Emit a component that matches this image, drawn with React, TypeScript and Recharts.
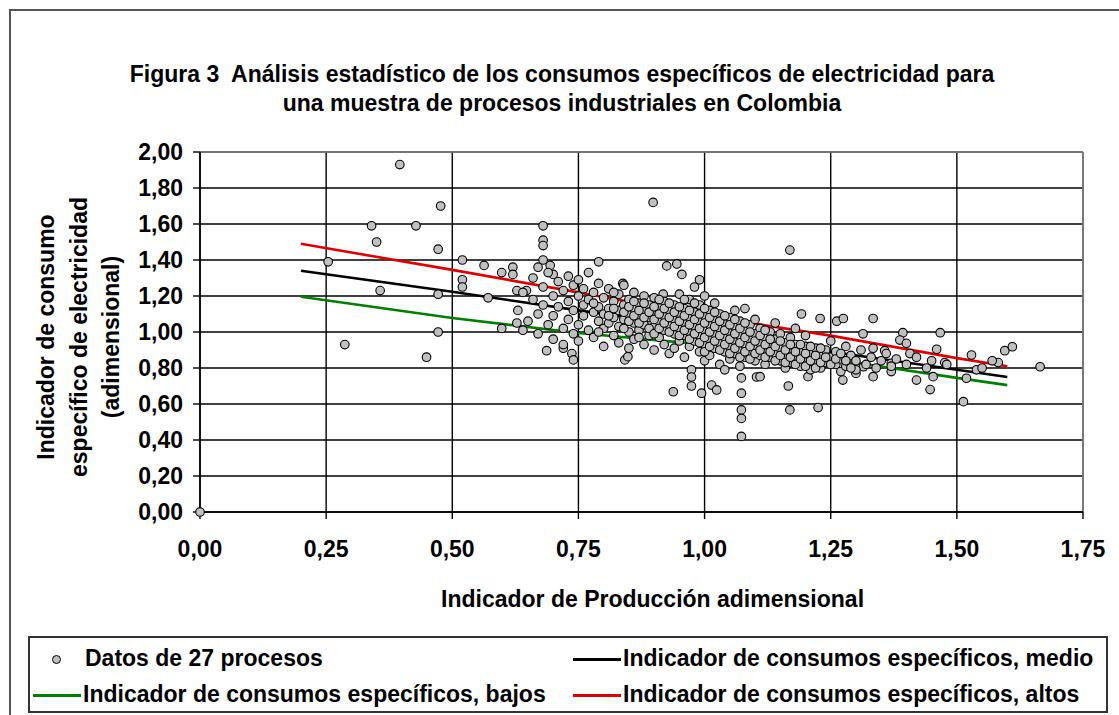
import React from "react";
import { ScatterChart, Scatter, XAxis, YAxis, CartesianGrid, ReferenceLine } from "recharts";

// Ticks of both axes (comma decimals, as in the original Excel chart)
const xTicks = [0, 0.25, 0.5, 0.75, 1, 1.25, 1.5, 1.75];
const yTicks = [0, 0.2, 0.4, 0.6, 0.8, 1, 1.2, 1.4, 1.6, 1.8, 2];

// Indicator lines at a few x positions
const lineaX = [0.2, 0.5, 0.75, 1.0, 1.25, 1.5, 1.6];
const altos = [1.49, 1.345, 1.22, 1.09, 0.98, 0.855, 0.81];
const medio = [1.34, 1.224, 1.12, 1.02, 0.89, 0.79, 0.75];
const bajos = [1.196, 1.078, 0.994, 0.93, 0.85, 0.745, 0.705];

// Scattered points away from the main cloud
const dispersos: [number, number][] = [
  [0, 0], [0.254, 1.39], [0.287, 0.93], [0.34, 1.59], [0.35, 1.5], [0.357, 1.23], [0.396, 1.93],
  [0.428, 1.59], [0.477, 1.7], [0.472, 1.46], [0.472, 1.0], [0.449, 0.86], [0.472, 1.21],
  [0.52, 1.4], [0.52, 1.29], [0.52, 1.25], [0.563, 1.37], [0.571, 1.19], [0.598, 1.33], [0.598, 1.02],
  [0.62, 1.36], [0.62, 1.32], [0.628, 1.23], [0.628, 1.05], [0.64, 1.01], [0.647, 1.23],
  [0.68, 1.59], [0.68, 1.51], [0.68, 1.48], [0.68, 1.4], [0.67, 1.36], [0.694, 1.37], [0.7, 1.32],
  [0.687, 0.896], [0.72, 0.91], [0.737, 0.88], [0.74, 0.845], [0.79, 1.39], [0.842, 0.845], [0.848, 0.863],
  [0.898, 1.72], [0.925, 1.367], [0.945, 1.378], [0.955, 1.32], [0.938, 0.668], [0.974, 0.79], [0.974, 0.75],
  [0.974, 0.7], [0.994, 0.66], [1.014, 0.705], [1.024, 0.678], [0.99, 1.29], [1.073, 0.66], [1.073, 0.567],
  [1.073, 0.52], [1.073, 0.42], [1.073, 0.745], [1.103, 0.75], [0.838, 1.27], [0.918, 1.21],
  [1.169, 1.455], [1.192, 1.1], [1.229, 1.075], [1.262, 1.06], [1.275, 1.075], [1.334, 1.075],
  [1.169, 0.567], [1.225, 0.58], [1.166, 0.7], [1.205, 0.752], [1.11, 0.752], [1.274, 0.733],
  [1.314, 0.99], [1.393, 0.996], [1.387, 0.955], [1.4, 0.937], [1.467, 0.996], [1.46, 0.904],
  [1.357, 0.896], [1.334, 0.91], [1.407, 0.88], [1.476, 0.83], [1.447, 0.68], [1.42, 0.733],
  [1.453, 0.752], [1.529, 0.872], [1.519, 0.743], [1.539, 0.79], [1.513, 0.613], [1.582, 0.83],
  [1.595, 0.896], [1.61, 0.918], [1.665, 0.807], [1.37, 0.826], [1.37, 0.78], [1.334, 0.752],
  [1.3, 0.77], [1.315, 0.807],
];

// Dense cloud of points between 0.6 and 1.6
const nucleo: [number, number][] = [
  [0.63, 1.12], [0.64, 1.22], [0.65, 1.06], [0.66, 1.18], [0.66, 1.3], [0.67, 1.1], [0.67, 0.99],
  [0.68, 1.25], [0.68, 1.15], [0.69, 1.04], [0.69, 1.33], [0.7, 1.2], [0.7, 1.09], [0.7, 0.96],
  [0.71, 1.28], [0.71, 1.14], [0.72, 1.02], [0.72, 1.23], [0.72, 0.93],
  [0.73, 1.31], [0.73, 1.17], [0.73, 1.07], [0.74, 1.26], [0.74, 0.99], [0.74, 1.12], [0.75, 1.2],
  [0.75, 1.04], [0.75, 0.95], [0.75, 1.29], [0.76, 1.15], [0.76, 1.09], [0.76, 1.24], [0.77, 1.01],
  [0.77, 1.18], [0.77, 1.33], [0.78, 1.11], [0.78, 0.97], [0.78, 1.22], [0.79, 1.06], [0.79, 1.27],
  [0.79, 1.14], [0.8, 1.19], [0.8, 1.02], [0.8, 1.1], [0.8, 0.92],
  [0.81, 1.24], [0.81, 1.13], [0.81, 1.05], [0.82, 1.17], [0.82, 0.98], [0.82, 1.08], [0.83, 1.21],
  [0.83, 1.12], [0.83, 1.03], [0.83, 0.94], [0.84, 1.15], [0.84, 1.07], [0.84, 1.26], [0.85, 1.1],
  [0.85, 1.0], [0.85, 1.18], [0.85, 0.91], [0.86, 1.13], [0.86, 1.05], [0.86, 1.22], [0.86, 0.96],
  [0.87, 1.09], [0.87, 1.16], [0.87, 1.01], [0.88, 1.12], [0.88, 1.04], [0.88, 0.93], [0.88, 1.2],
  [0.89, 1.08], [0.89, 1.15], [0.89, 0.98], [0.9, 1.11], [0.9, 1.03], [0.9, 1.19], [0.9, 0.9],
  [0.91, 1.06], [0.91, 1.14], [0.91, 0.97], [0.92, 1.09], [0.92, 1.01], [0.92, 1.17], [0.92, 0.93],
  [0.93, 1.12], [0.93, 1.04], [0.93, 0.88], [0.94, 1.07], [0.94, 0.99], [0.94, 1.15], [0.94, 0.91],
  [0.95, 1.1], [0.95, 1.02], [0.95, 0.95], [0.95, 1.21], [0.96, 1.05], [0.96, 0.98], [0.96, 1.13],
  [0.96, 0.86], [0.97, 1.08], [0.97, 1.0], [0.97, 0.92], [0.97, 1.18], [0.98, 1.03], [0.98, 1.11],
  [0.98, 0.95], [0.98, 1.25], [0.99, 1.06], [0.99, 0.98], [0.99, 0.89], [0.99, 1.15], [1.0, 1.01],
  [1.0, 1.09], [1.0, 0.93], [1.0, 1.2], [1.0, 0.84], [1.01, 1.04], [1.01, 0.96], [1.01, 1.12],
  [1.01, 0.87], [1.02, 0.99], [1.02, 1.07], [1.02, 0.91], [1.02, 1.16], [1.03, 1.02], [1.03, 0.94],
  [1.03, 0.82], [1.03, 1.1], [1.04, 0.97], [1.04, 1.05], [1.04, 0.89], [1.04, 0.79],
  [1.05, 1.0], [1.05, 0.92], [1.05, 1.08], [1.05, 0.85], [1.06, 0.95], [1.06, 1.03], [1.06, 0.88],
  [1.06, 1.12], [1.07, 0.98], [1.07, 0.9], [1.07, 0.81], [1.07, 1.06], [1.08, 0.93], [1.08, 1.01],
  [1.08, 0.86], [1.08, 1.13], [1.09, 0.96], [1.09, 0.89], [1.09, 1.04], [1.1, 0.91], [1.1, 0.99],
  [1.1, 0.84], [1.1, 1.07], [1.11, 0.94], [1.11, 0.87], [1.11, 1.02], [1.12, 0.9], [1.12, 0.97],
  [1.12, 0.82], [1.13, 0.93], [1.13, 1.0], [1.13, 0.86], [1.14, 0.88], [1.14, 0.96], [1.14, 1.05],
  [1.15, 0.91], [1.15, 0.84], [1.15, 0.99], [1.16, 0.87], [1.16, 0.94], [1.16, 0.8], [1.17, 0.9],
  [1.17, 0.97], [1.17, 0.83], [1.18, 0.86], [1.18, 0.93], [1.18, 1.02], [1.19, 0.89], [1.19, 0.81],
  [1.2, 0.85], [1.2, 0.92], [1.2, 0.98], [1.21, 0.88], [1.21, 0.79], [1.22, 0.84], [1.22, 0.91],
  [1.23, 0.87], [1.23, 0.8], [1.24, 0.9], [1.24, 0.83], [1.25, 0.86], [1.25, 0.95], [1.26, 0.82],
  [1.26, 0.89], [1.27, 0.78], [1.27, 0.85], [1.28, 0.92], [1.28, 0.81], [1.29, 0.87], [1.3, 0.84],
  [1.3, 0.79], [1.31, 0.9], [1.32, 0.82], [1.33, 0.86], [1.34, 0.8], [1.35, 0.84], [1.36, 0.88],
  [1.37, 0.81], [1.38, 0.85], [1.4, 0.82], [1.42, 0.86], [1.44, 0.8], [1.45, 0.84], [1.48, 0.82],
  [1.55, 0.8], [1.57, 0.84],
];

// Extra points filling the darkest part of the cloud (0.78 - 1.29)
const nucleoDenso: [number, number][] = [
  [0.78, 1.16], [0.79, 1.0], [0.81, 1.09], [0.82, 1.13], [0.82, 1.22], [0.84, 1.11], [0.84, 1.02],
  [0.85, 1.14], [0.85, 1.06], [0.86, 1.09], [0.86, 1.17], [0.87, 1.05], [0.87, 1.12], [0.87, 0.97],
  [0.88, 1.08], [0.88, 1.16], [0.89, 1.02], [0.89, 1.11], [0.9, 1.07], [0.9, 1.14], [0.9, 0.99],
  [0.91, 1.1], [0.91, 1.02], [0.91, 1.18], [0.92, 1.05], [0.92, 1.13], [0.93, 1.08], [0.93, 1.0],
  [0.93, 1.16], [0.94, 1.03], [0.94, 1.11], [0.95, 1.06], [0.95, 0.98], [0.95, 1.14], [0.96, 1.09],
  [0.96, 1.01], [0.96, 1.18], [0.97, 1.04], [0.97, 0.96], [0.97, 1.12], [0.98, 1.07], [0.98, 0.99],
  [0.98, 1.16], [0.99, 1.02], [0.99, 1.1], [0.99, 0.94], [1.0, 1.05], [1.0, 0.97], [1.0, 1.13],
  [1.0, 0.89], [1.01, 1.0], [1.01, 1.08], [1.01, 0.92], [1.02, 1.03], [1.02, 0.95], [1.02, 1.11],
  [1.03, 0.98], [1.03, 1.06], [1.03, 0.9], [1.04, 1.01], [1.04, 0.93], [1.04, 1.09], [1.05, 0.96],
  [1.05, 1.04], [1.05, 0.88], [1.06, 0.99], [1.06, 0.91], [1.06, 1.07], [1.07, 0.94], [1.07, 1.02],
  [1.07, 0.86], [1.08, 0.97], [1.08, 0.89], [1.08, 1.05], [1.09, 0.92], [1.09, 1.0], [1.09, 0.85],
  [1.1, 0.95], [1.1, 0.88], [1.11, 0.98], [1.11, 0.9], [1.12, 0.93], [1.12, 0.86], [1.12, 1.01],
  [1.13, 0.89], [1.13, 0.96], [1.14, 0.92], [1.14, 0.84], [1.15, 0.87], [1.15, 0.95], [1.16, 0.9],
  [1.16, 0.83], [1.17, 0.86], [1.17, 0.93], [1.18, 0.89], [1.18, 0.82], [1.19, 0.85], [1.19, 0.93],
  [1.2, 0.88], [1.2, 0.81], [1.21, 0.84], [1.21, 0.92], [1.22, 0.87], [1.22, 0.8], [1.23, 0.83],
  [1.23, 0.91], [1.24, 0.86], [1.25, 0.82], [1.26, 0.85], [1.27, 0.88], [1.28, 0.84], [1.29, 0.8],
];

const FONT = "'Liberation Sans', Arial, sans-serif";
const fmt = (v: number) => v.toFixed(2).replace(".", ",");
const toRows = (pts: [number, number][]) => pts.map(([x, y]) => ({ x, y }));
const lineRows = (ys: number[]) => lineaX.map((x, i) => ({ x, y: ys[i] }));

const tickStyle = { fontSize: 23, fontWeight: 700, fill: "#000", fontFamily: FONT };
const noMarker = () => <g />;
const marker = (p: any) => (
  <circle cx={p.cx} cy={p.cy} r={4.3} fill="#c0c0c0" stroke="#000" strokeWidth={1.1} />
);

const txt: React.CSSProperties = { fontFamily: FONT, fontWeight: 700, fontSize: 23, color: "#000", whiteSpace: "nowrap" };

function LegendLine({ color }: { color: string }) {
  return <span style={{ display: "inline-block", width: 48, height: 3, background: color, verticalAlign: "middle", marginRight: 2 }} />;
}

export default function App() {
  const puntos = [...toRows(dispersos), ...toRows(nucleo), ...toRows(nucleoDenso)];
  return (
    <div style={{ position: "fixed", left: 0, top: 0, width: 1119, height: 715, background: "#fff", overflow: "hidden" }}>
      <div style={{ position: "absolute", left: 9, top: 9, width: 1130, height: 720, border: "2px solid #555", boxSizing: "border-box" }} />
      <div style={{ ...txt, position: "absolute", left: 0, width: 1124, top: 60, textAlign: "center", lineHeight: "29px" }}>
        <div>Figura 3&nbsp; Análisis estadístico de los consumos específicos de electricidad para</div>
        <div>una muestra de procesos industriales en Colombia</div>
      </div>
      <div style={{ position: "absolute", left: 0, top: 0 }}>
        <ScatterChart width={1119} height={715} margin={{ top: 152, right: 36, bottom: 163, left: 130 }}>
          <CartesianGrid stroke="#000" strokeWidth={1.4} />
          <XAxis
            type="number"
            dataKey="x"
            domain={[0, 1.75]}
            ticks={xTicks}
            interval={0}
            tickFormatter={fmt}
            tick={tickStyle}
            tickSize={7}
            tickMargin={22}
            height={40}
            axisLine={{ stroke: "#000", strokeWidth: 1.5 }}
            tickLine={{ stroke: "#000", strokeWidth: 1.4 }}
          />
          <YAxis
            type="number"
            dataKey="y"
            domain={[0, 2]}
            ticks={yTicks}
            interval={0}
            tickFormatter={fmt}
            tick={tickStyle}
            tickSize={7}
            tickMargin={10}
            width={70}
            axisLine={{ stroke: "#000", strokeWidth: 1.5 }}
            tickLine={{ stroke: "#000", strokeWidth: 1.4 }}
          />
          <ReferenceLine y={2} stroke="#888" strokeWidth={1.5} />
          <ReferenceLine x={1.75} stroke="#888" strokeWidth={1.5} />
          <Scatter data={lineRows(bajos)} line={{ stroke: "#008000", strokeWidth: 2.6 }} lineType="joint" shape={noMarker} isAnimationActive={false} />
          <Scatter data={lineRows(medio)} line={{ stroke: "#000", strokeWidth: 2.6 }} lineType="joint" shape={noMarker} isAnimationActive={false} />
          <Scatter data={lineRows(altos)} line={{ stroke: "#e00000", strokeWidth: 2.6 }} lineType="joint" shape={noMarker} isAnimationActive={false} />
          <Scatter data={puntos} shape={marker} isAnimationActive={false} />
        </ScatterChart>
      </div>
      <div style={{ position: "absolute", left: 79, top: 337, transform: "translate(-50%, -50%) rotate(-90deg)", textAlign: "center", lineHeight: "32.5px", ...txt }}>
        <div>Indicador de consumo</div>
        <div>específico de electricidad</div>
        <div>(adimensional)</div>
      </div>
      <div style={{ ...txt, position: "absolute", left: 441, width: 400, top: 586, textAlign: "center" }}>
        Indicador de Producción adimensional
      </div>
      <div style={{ position: "absolute", left: 28, top: 636, width: 1080, height: 77, border: "2px solid #333", boxSizing: "border-box" }}>
        <div style={{ ...txt, position: "absolute", left: 22, top: 7 }}>
          <span style={{ display: "inline-block", width: 7, height: 7, borderRadius: "50%", background: "#c0c0c0", border: "1px solid #000", verticalAlign: "middle", marginRight: 24 }} />
          Datos de 27 procesos
        </div>
        <div style={{ ...txt, position: "absolute", left: 543, top: 7 }}>
          <LegendLine color="#000" />Indicador de consumos específicos, medio
        </div>
        <div style={{ ...txt, position: "absolute", left: 3, top: 43 }}>
          <LegendLine color="#008000" />Indicador de consumos específicos, bajos
        </div>
        <div style={{ ...txt, position: "absolute", left: 543, top: 43 }}>
          <LegendLine color="#e00000" />Indicador de consumos específicos, altos
        </div>
      </div>
    </div>
  );
}
